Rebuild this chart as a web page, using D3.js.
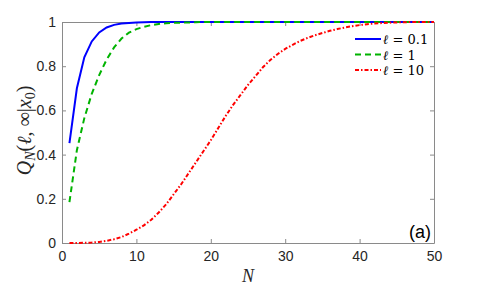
<!DOCTYPE html>
<html>
<head>
<meta charset="utf-8">
<script src="https://cdn.jsdelivr.net/npm/d3@7"></script>
<style>
body { margin: 0; background: #fff; }
.tick text { font-family: "Liberation Sans", Arial, sans-serif; font-size: 14px; fill: #262626; }
</style>
</head>
<body>
<svg id="chart"></svg>
<script>
var nValues = [1,2,3,4,5,6,7,8,9,10,11,12,13,14,15,16,17,18,19,20,
    21,22,23,24,25,26,27,28,29,30,31,32,33,34,35,36,37,38,39,40,
    41,42,43,44,45,46,47,48,49,50]

var blueValues = [0.452,0.700,0.840,0.912,0.953,0.975,0.987,0.993,0.996,0.998,
    0.999,1,1,1,1,1,1,1,1,1,
    1,1,1,1,1,1,1,1,1,1,1,1,1,1,1,1,1,1,1,1,
    1,1,1,1,1,1,1,1,1,1]

var greenValues = [0.185,0.420,0.565,0.675,0.760,0.830,0.885,0.925,0.952,0.968,
    0.978,0.986,0.991,0.994,0.996,0.997,0.998,0.999,1,1,
    1,1,1,1,1,1,1,1,1,1,1,1,1,1,1,1,1,1,1,1,
    1,1,1,1,1,1,1,1,1,1]

var redValues = [0.000,0.000,0.001,0.002,0.005,0.010,0.017,0.027,0.042,0.060,
    0.080,0.105,0.138,0.175,0.220,0.265,0.315,0.365,0.415,0.465,
    0.520,0.575,0.625,0.670,0.715,0.755,0.795,0.828,0.855,0.878,
    0.897,0.914,0.928,0.940,0.950,0.960,0.968,0.975,0.981,0.986,
    0.990,0.993,0.995,0.997,0.998,0.999,1,1,1,1]

var seriesNames = ["0.1", "1", "10"]
var xTicks = [0,10,20,30,40,50]
var yTicks = [0,0.2,0.4,0.6,0.8,1]
var panelLabel = "(a)"

var screen = {width:480, height:288}
var margins = {top:22, bottom:45, left:62, right:46}
var graph = {
    width: screen.width-margins.left-margins.right,
    height: screen.height-margins.top-margins.bottom
}

var svg = d3.select("#chart")
    .attr("width", screen.width)
    .attr("height", screen.height)

var g = svg.append("g")
    .attr("transform", "translate("+margins.left+","+margins.top+")")

var xScale = d3.scaleLinear().domain([0,50]).range([0,graph.width])
var yScale = d3.scaleLinear().domain([0,1]).range([graph.height,0])

// box with inward ticks on all four sides
var axisColor = "#8a8a8a"
var bottom = g.append("g")
    .attr("transform","translate(0,"+graph.height+")")
    .call(d3.axisBottom(xScale).tickValues(xTicks).tickSizeInner(-4).tickSizeOuter(0).tickPadding(8))
var top = g.append("g")
    .call(d3.axisTop(xScale).tickValues(xTicks).tickSizeInner(-4).tickSizeOuter(0).tickFormat(""))
var left = g.append("g")
    .call(d3.axisLeft(yScale).tickValues(yTicks).tickSizeInner(-4).tickSizeOuter(0).tickPadding(6).tickFormat(d3.format("~g")))
var right = g.append("g")
    .attr("transform","translate("+graph.width+",0)")
    .call(d3.axisRight(yScale).tickValues(yTicks).tickSizeInner(-4).tickSizeOuter(0).tickFormat(""))

g.selectAll(".domain, .tick line").attr("stroke", axisColor)

var series = [
    {values: blueValues, color: "#0000ff", dash: null},
    {values: greenValues, color: "#00b300", dash: "6,4"},
    {values: redValues, color: "#ff0000", dash: "4,2,1.5,2"}
]

var lineGenerator = d3.line()
    .x(function(d,i){return xScale(nValues[i])})
    .y(function(d){return yScale(d)})

g.append("g").selectAll("path")
    .data(series)
    .enter()
    .append("path")
    .attr("fill","none")
    .attr("stroke",function(s){return s.color})
    .attr("stroke-width",2)
    .attr("stroke-dasharray",function(s){return s.dash})
    .attr("d",function(s){return lineGenerator(s.values)})

// legend, no box
var legend = svg.append("g").attr("transform","translate(355,39)")
var rows = legend.selectAll("g")
    .data(series)
    .enter()
    .append("g")
    .attr("transform",function(s,i){return "translate(0,"+(i*15.5)+")"})
rows.append("line")
    .attr("x1",0).attr("x2",26)
    .attr("stroke",function(s){return s.color})
    .attr("stroke-width",2)
    .attr("stroke-dasharray",function(s){return s.dash})
var lt = rows.append("text")
    .attr("x",28).attr("y",5)
    .style("font-family","'DejaVu Serif', 'Liberation Serif', serif")
    .style("font-size","13px")
    .attr("fill","#000")
lt.append("tspan").style("font-style","italic").text("ℓ")
lt.append("tspan").text(function(s,i){return " = "+seriesNames[i]})

// panel label
svg.append("text")
    .attr("x",431).attr("y",238)
    .attr("text-anchor","end")
    .style("font-family","'Liberation Sans', Arial, sans-serif")
    .style("font-size","18px")
    .attr("fill","#000")
    .text(panelLabel)

// axis labels
svg.append("text")
    .attr("x",margins.left+graph.width/2)
    .attr("y",282)
    .attr("text-anchor","middle")
    .style("font-family","'Liberation Serif', serif")
    .style("font-style","italic")
    .style("font-size","18px")
    .attr("fill","#262626")
    .text("N")

var yl = svg.append("text")
    .attr("transform","translate(31,"+(margins.top+graph.height/2 - 2)+") rotate(-90)")
    .attr("text-anchor","middle")
    .style("font-family","'Liberation Serif', serif")
    .style("font-size","20px")
    .attr("fill","#262626")
yl.append("tspan").style("font-style","italic").text("Q")
yl.append("tspan").style("font-style","italic").style("font-size","14px").attr("dy",4).text("N")
yl.append("tspan").attr("dy",-4).text("(")
yl.append("tspan").style("font-style","italic").text("ℓ")
yl.append("tspan").text(", ∞|")
yl.append("tspan").style("font-style","italic").text("x")
yl.append("tspan").style("font-size","14px").attr("dy",4).text("0")
yl.append("tspan").attr("dy",-4).text(")")
</script>
</body>
</html>
